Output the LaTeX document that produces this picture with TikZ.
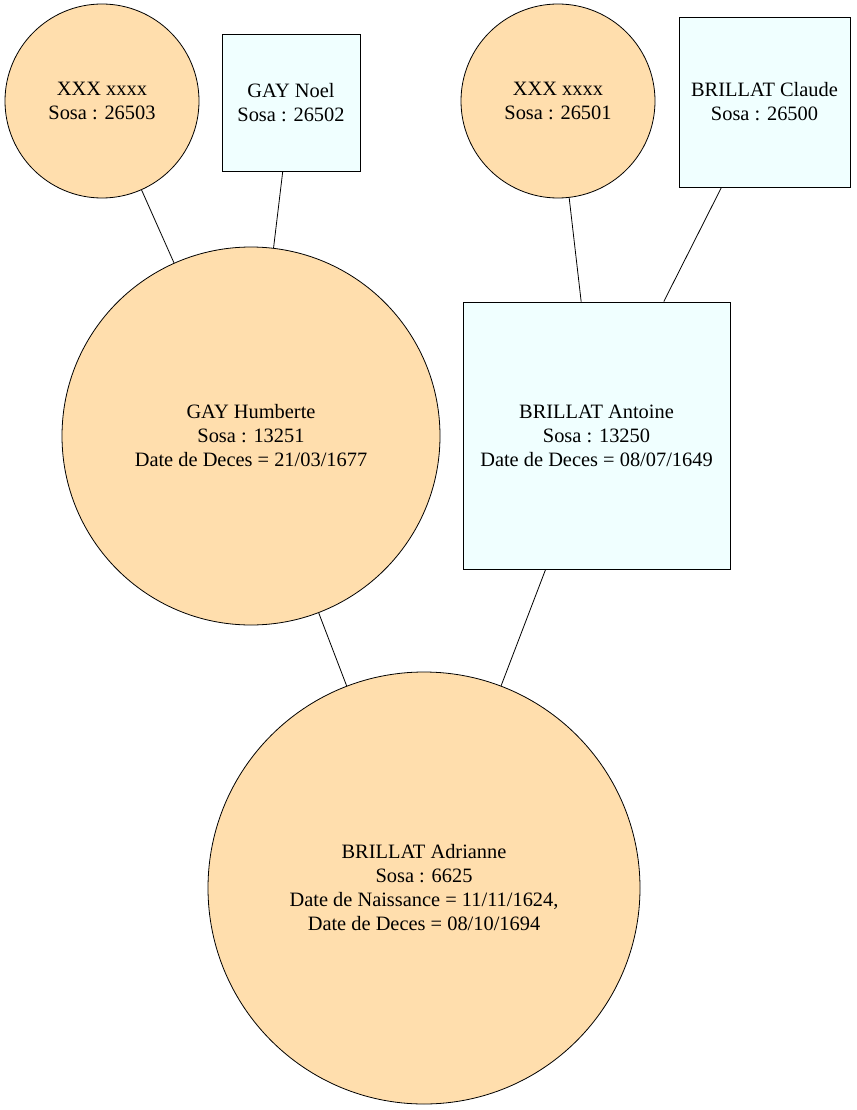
\documentclass[tikz,border=0pt]{standalone}
\usepackage{fontspec}
\setmainfont{Liberation Serif}
\definecolor{femalefill}{HTML}{FFDEAD}
\definecolor{malefill}{HTML}{F0FFFF}
\tikzset{female/.style={circle, fill=femalefill}, male/.style={rectangle, fill=malefill}}

\begin{document}
\begin{tikzpicture}[x=1pt,y=-1pt,every node/.style={draw=black, align=center, inner sep=0pt, font=\fontsize{20.4}{24}\selectfont}, every path/.style={line width=0.8pt}]
\useasboundingbox (0,0) rectangle (856,1110);

\node[female, minimum size=194pt] (s26503) at (102,101) {XXX xxxx\\Sosa : 26503};
\node[male, minimum width=138pt, minimum height=137pt] (s26502) at (291,102.5) {GAY Noel\\Sosa : 26502};
\node[female, minimum size=194pt] (s26501) at (558,101) {XXX xxxx\\Sosa : 26501};
\node[male, minimum width=171pt, minimum height=170pt] (s26500) at (764.5,102) {BRILLAT Claude\\Sosa : 26500};
\node[female, minimum size=378pt] (s13251) at (251,436) {GAY Humberte\\Sosa : 13251\\Date de Deces = 21/03/1677};
\node[male, minimum width=267pt, minimum height=267pt] (s13250) at (596.5,435.5) {BRILLAT Antoine\\Sosa : 13250\\Date de Deces = 08/07/1649};
\node[female, minimum size=432pt] (s6625) at (424,888) {BRILLAT Adrianne\\Sosa : 6625\\Date de Naissance = 11/11/1624,\\Date de Deces = 08/10/1694};

\draw (s26503) -- (s13251);
\draw (s26502) -- (s13251);
\draw (s26501) -- (s13250);
\draw (s26500) -- (s13250);
\draw (s13251) -- (s6625);
\draw (s13250) -- (s6625);
\end{tikzpicture}
\end{document}
